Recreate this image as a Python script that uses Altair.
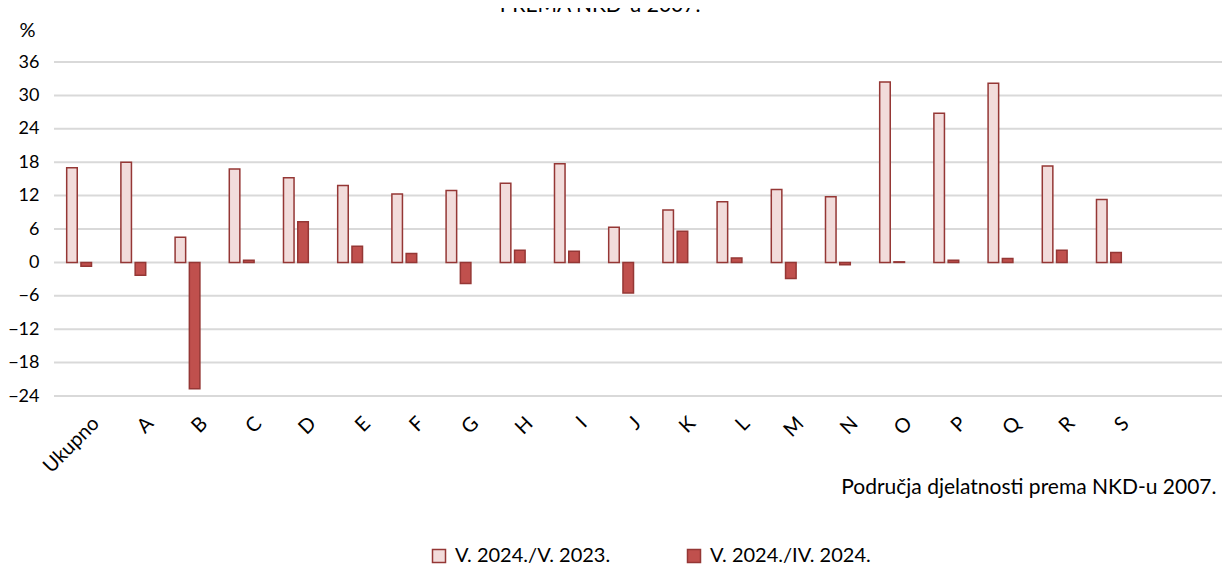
import altair as alt
import pandas as pd

categories = ["Ukupno", "A", "B", "C", "D", "E", "F", "G", "H", "I",
              "J", "K", "L", "M", "N", "O", "P", "Q", "R", "S"]
series_names = ["V. 2024./V. 2023.", "V. 2024./IV. 2024."]
yoy = [17.0, 18.0, 4.5, 16.8, 15.2, 13.8, 12.3, 12.9, 14.2, 17.7,
       6.3, 9.4, 10.9, 13.1, 11.8, 32.4, 26.8, 32.2, 17.3, 11.3]
mom = [-0.7, -2.3, -22.7, 0.4, 7.3, 2.9, 1.6, -3.8, 2.2, 2.0,
       -5.5, 5.6, 0.8, -2.9, -0.4, 0.1, 0.4, 0.7, 2.2, 1.8]
y_ticks = [-24, -18, -12, -6, 0, 6, 12, 18, 24, 30, 36]
title_text = ["PREMA NKD-u 2007."]

rows = []
for c, a, b in zip(categories, yoy, mom):
    rows.append({"cat": c, "series": series_names[0], "value": a})
    rows.append({"cat": c, "series": series_names[1], "value": b})
df = pd.DataFrame(rows)
grid_df = pd.DataFrame({"tick": y_ticks})
title_df = pd.DataFrame({"t": title_text})

FONT = "Lato"
W, H = 1166, 334
step = 54.2
x_start = -4
x_end = x_start + step * len(categories)

y_scale = alt.Scale(domain=[-24, 36], nice=False)
y_axis = alt.Axis(
    values=y_ticks, title="%", titleAngle=0, titleX=-29, titleY=-32,
    titleAlign="center", titleBaseline="middle", labelPadding=17,
    domain=False, ticks=False, grid=False,
    labelFontSize=18, titleFontSize=20, titleFontWeight="normal",
)

grid = alt.Chart(grid_df).mark_rule(color="#D9D9D9", strokeWidth=2).encode(
    y=alt.Y("tick:Q", scale=y_scale, axis=y_axis),
    x=alt.value(-2),
    x2=alt.value(W),
)

bars = alt.Chart(df).mark_bar(stroke="#953735", strokeWidth=1.5).encode(
    x=alt.X(
        "cat:N", sort=categories,
        scale=alt.Scale(range=[x_start, x_end], paddingInner=0.5, paddingOuter=0.25),
        axis=alt.Axis(
            title="Područja djelatnosti prema NKD-u 2007.",
            labelAngle=-45, labelAlign="right", labelBaseline="middle",
            labelOffset=17, labelPadding=24, domain=False, ticks=False, grid=False,
            labelFontSize=20, titleFontSize=21, titleX=1160, titleY=91,
            titleAlign="right", titleBaseline="middle", titleFontWeight="normal",
        ),
    ),
    xOffset=alt.XOffset("series:N", sort=series_names,
                        scale=alt.Scale(paddingInner=0.26, paddingOuter=0.08)),
    y=alt.Y("value:Q", scale=y_scale, axis=y_axis),
    color=alt.Color(
        "series:N", sort=series_names,
        scale=alt.Scale(domain=series_names, range=["#F2DCDB", "#C0504D"]),
        legend=alt.Legend(
            title=None, orient="none", legendX=373, legendY=484,
            direction="horizontal", symbolType="square", symbolSize=169,
            symbolStrokeColor="#953735", symbolStrokeWidth=1.5, symbolOpacity=1,
            labelFontSize=20, columnPadding=73, labelOffset=6, labelLimit=400,
        ),
    ),
)

title = alt.Chart(title_df).mark_text(
    font=FONT, fontSize=21, color="black", align="center", baseline="alphabetic"
).encode(
    text="t:N",
    x=alt.value(544),
    y=alt.value(-50),
)

chart = alt.layer(grid, bars, title).properties(
    width=W, height=H,
    autosize=alt.AutoSizeParams(type="none"),
    padding={"left": 48, "top": 54, "right": 0, "bottom": 170},
).configure_axis(
    labelFont=FONT, titleFont=FONT, labelColor="black", titleColor="black",
).configure_legend(
    labelFont=FONT, labelColor="black",
).configure_view(stroke=None)

chart.save("out.html", embed_options={"renderer": "svg", "actions": False})
